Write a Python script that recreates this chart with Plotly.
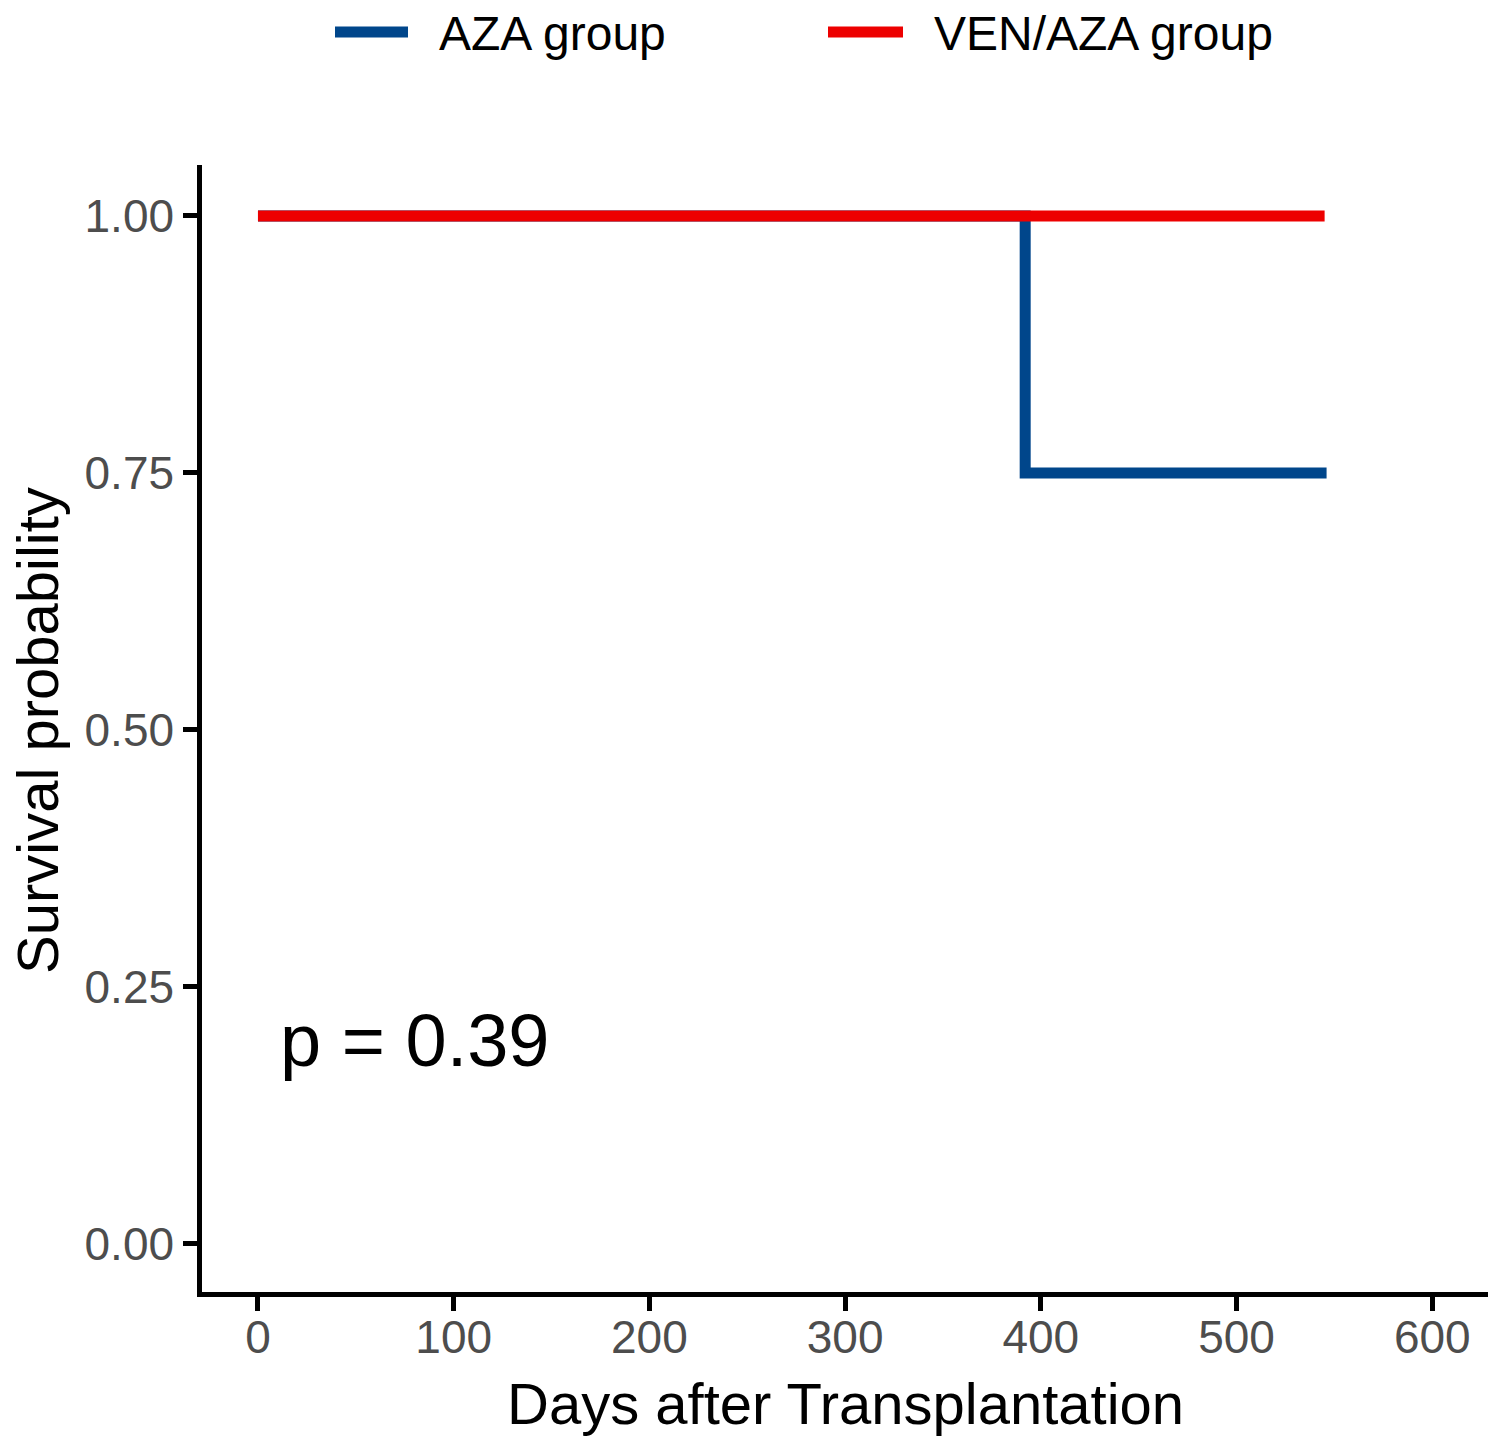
import plotly.graph_objects as go

# Data
groups = ["AZA group", "VEN/AZA group"]
colors = ["#00468b", "#ed0000"]
aza_days = [0, 392, 546]
aza_surv = [1.0, 0.75, 0.75]
ven_days = [0, 545]
ven_surv = [1.0, 1.0]
x_ticks = [0, 100, 200, 300, 400, 500, 600]
y_ticks = [0.0, 0.25, 0.5, 0.75, 1.0]
y_ticklabels = ["0.00", "0.25", "0.50", "0.75", "1.00"]
x_title = "Days after Transplantation"
y_title = "Survival probability"
p_text = "p = 0.39"

FONT = "Liberation Sans, Arial, sans-serif"

# figure placed at (8,8) in the page due to body margin
OFF = 8
W, H = 1496 - OFF, 1436 - OFF
L, R, T, B = 202 - OFF, 6, 165 - OFF, 1436 - 1292
PW, PH = W - L - R, H - T - B


def px(xp):
    return (xp - OFF - L) / PW


def py(yp):
    return (H - B - (yp - OFF)) / PH


fig = go.Figure()
fig.add_trace(go.Scatter(x=aza_days, y=aza_surv, mode="lines", line=dict(color=colors[0], width=11, shape="hv"),
                         name=groups[0], showlegend=False))
fig.add_trace(go.Scatter(x=ven_days, y=ven_surv, mode="lines", line=dict(color=colors[1], width=11, shape="hv"),
                         name=groups[1], showlegend=False))

# p-value annotation
fig.add_annotation(x=10, y=0.198, text=p_text, showarrow=False, xanchor="left", yanchor="middle",
                   font=dict(family=FONT, size=74, color="black"))

# Axis titles
fig.add_annotation(xref="paper", yref="paper", x=px(845), y=py(1403), text=x_title, showarrow=False,
                   xanchor="center", yanchor="middle", font=dict(family=FONT, size=58, color="black"))
fig.add_annotation(xref="paper", yref="paper", x=px(37), y=py(731), text=y_title, showarrow=False,
                   textangle=-90, xanchor="center", yanchor="middle",
                   font=dict(family=FONT, size=58, color="black"))

# Manual legend at the top
legend_items = [(groups[0], colors[0], 335, 408, 437), (groups[1], colors[1], 828, 903, 932)]
for name, col, x0, x1, tx in legend_items:
    fig.add_shape(type="line", xref="paper", yref="paper",
                  x0=px(x0), x1=px(x1), y0=py(32), y1=py(32),
                  line=dict(color=col, width=11))
    fig.add_annotation(xref="paper", yref="paper", x=px(tx), y=py(34),
                       text=name, showarrow=False, xanchor="left", yanchor="middle",
                       font=dict(family=FONT, size=48, color="black"))

fig.update_layout(
    width=W, height=H,
    margin=dict(l=L, r=R, t=T, b=B),
    plot_bgcolor="white", paper_bgcolor="white",
    font=dict(family=FONT),
    showlegend=False,
)
fig.update_xaxes(range=[-28.6, 629.5], tickvals=x_ticks, ticks="outside", ticklen=14, tickwidth=4.5,
                 tickcolor="black", showline=True, linecolor="black", linewidth=4.5, showgrid=False,
                 zeroline=False, tickfont=dict(family=FONT, size=46, color="#4d4d4d"), ticklabelstandoff=-13,
                 automargin=False)
fig.update_yaxes(range=[-0.0467, 1.0496], tickvals=y_ticks, ticktext=y_ticklabels, ticks="outside", ticklen=14,
                 tickwidth=4.5, tickcolor="black", showline=True, linecolor="black", linewidth=4.5, showgrid=False,
                 zeroline=False, tickfont=dict(family=FONT, size=46, color="#4d4d4d"), automargin=False)

fig.write_html("out.html")
